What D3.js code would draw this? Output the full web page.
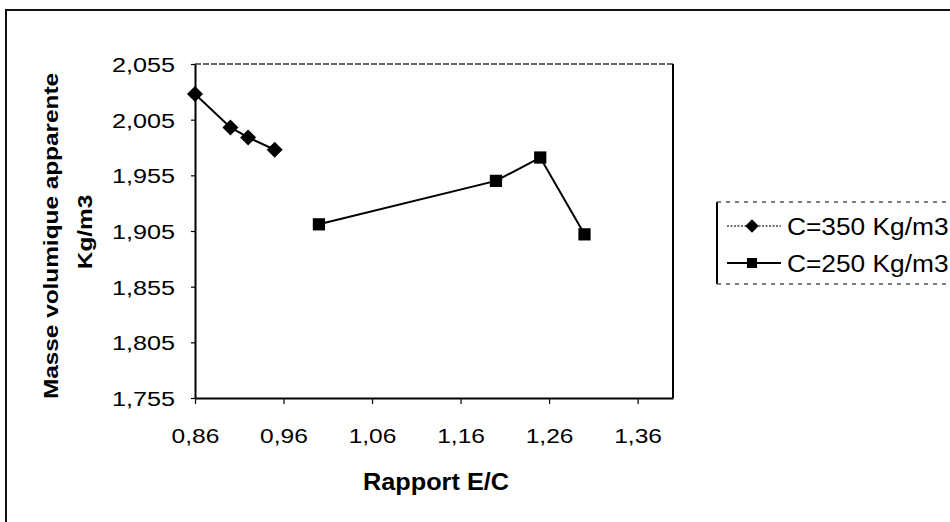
<!DOCTYPE html>
<html><head><meta charset="utf-8">
<script src="https://cdn.jsdelivr.net/npm/d3@7"></script>
<style>body{margin:0;background:#fff;} svg{display:block;}</style>
</head><body><svg id="chart" width="950" height="522"></svg>
<script>
// E/C ratio (x) and apparent density (y) for each cement dosage
const ecRatio350 = [0.86, 0.90, 0.92, 0.95];
const density350 = [2.028, 1.998, 1.989, 1.978];
const ecRatio250 = [1.00, 1.20, 1.25, 1.30];
const density250 = [1.911, 1.950, 1.971, 1.902];
const seriesNames = ["C=350 Kg/m3", "C=250 Kg/m3"];
const xTickValues = [0.86, 0.96, 1.06, 1.16, 1.26, 1.36];
const yTickValues = [1.755, 1.805, 1.855, 1.905, 1.955, 2.005, 2.055];
const xTitle = "Rapport E/C";
const yTitleLines = ["Masse volumique apparente", "Kg/m3"];

const W = 950, H = 522;
const plot = {left: 195, right: 673, top: 64, bottom: 398};
const FONT = "'Liberation Sans', Arial, sans-serif";
const svg = d3.select("#chart");

const locale = d3.formatLocale({decimal: ",", thousands: " ", grouping: [3], currency: ["", ""]});
const fmtX = locale.format(".2f"), fmtY = locale.format(".3f");

const x = d3.scaleLinear().domain([0.86, 1.40]).range([plot.left, plot.right]);
const y = d3.scaleLinear().domain([1.755, 2.055]).range([plot.bottom, plot.top]);

// outer chart border (top and left edges)
svg.append("path")
  .attr("d", `M6,${H} V10 H${W}`)
  .attr("fill", "none").attr("stroke", "#111").attr("stroke-width", 2);

// plot frame: dotted top edge, solid right edge
svg.append("line")
  .attr("x1", plot.left).attr("x2", plot.right).attr("y1", plot.top).attr("y2", plot.top)
  .attr("stroke", "#333").attr("stroke-width", 1.5).attr("stroke-dasharray", "6,2");
svg.append("line")
  .attr("x1", plot.right).attr("x2", plot.right).attr("y1", plot.top).attr("y2", plot.bottom)
  .attr("stroke", "#000").attr("stroke-width", 2);

// y axis
const gy = svg.append("g")
  .attr("transform", `translate(${plot.left},0)`)
  .call(d3.axisLeft(y).tickValues(yTickValues).tickFormat(fmtY).tickSize(4).tickSizeOuter(0));
gy.select(".domain").attr("stroke", "#000").attr("stroke-width", 2);
gy.selectAll(".tick line").attr("stroke", "#000").attr("stroke-width", 1.2);
const syTick = 1.2;
gy.selectAll(".tick text")
  .attr("font-family", FONT).attr("font-size", 21).attr("fill", "#000")
  .attr("x", -20 / syTick).attr("dy", "0.35em")
  .attr("transform", `scale(${syTick},1)`);

// x axis
const gx = svg.append("g")
  .attr("transform", `translate(0,${plot.bottom})`)
  .call(d3.axisBottom(x).tickValues(xTickValues).tickFormat(fmtX).tickSize(6).tickSizeOuter(0));
gx.select(".domain").attr("stroke", "#000").attr("stroke-width", 2);
gx.selectAll(".tick line").attr("stroke", "#000").attr("stroke-width", 1.2);
gx.selectAll(".tick text")
  .attr("font-family", FONT).attr("font-size", 21).attr("fill", "#000")
  .attr("y", 45).attr("dy", 0)
  .attr("transform", "scale(1.17,1)");

// axis titles
svg.append("text")
  .attr("transform", `translate(${(plot.left + plot.right) / 2 + 2},490) scale(1.1,1)`)
  .attr("text-anchor", "middle")
  .attr("font-family", FONT).attr("font-weight", "bold").attr("font-size", 23)
  .text(xTitle);

const yTitlePos = [[58, 236], [92, 232]];
yTitleLines.forEach((t, i) => {
  svg.append("text")
    .attr("transform", `translate(${yTitlePos[i][0]},${yTitlePos[i][1]}) rotate(-90) scale(1.16,1)`)
    .attr("text-anchor", "middle")
    .attr("font-family", FONT).attr("font-weight", "bold").attr("font-size", 21)
    .text(t);
});

// series
const series = [
  {name: seriesNames[0], xs: ecRatio350, ys: density350, symbol: d3.symbolSquare, size: 128, rot: 45},
  {name: seriesNames[1], xs: ecRatio250, ys: density250, symbol: d3.symbolSquare, size: 150, rot: 0}
];
const line = d3.line().x(d => x(d[0])).y(d => y(d[1]));

series.forEach(s => {
  const pts = s.xs.map((v, i) => [v, s.ys[i]]);
  svg.append("path").datum(pts)
    .attr("d", line).attr("fill", "none").attr("stroke", "#000").attr("stroke-width", 2);
  svg.selectAll(null).data(pts).enter().append("path")
    .attr("d", d3.symbol(s.symbol, s.size))
    .attr("transform", d => `translate(${x(d[0])},${y(d[1])}) rotate(${s.rot})`)
    .attr("fill", "#000");
});

// legend
const lg = {left: 717, top: 202, bottom: 284};
svg.append("line").attr("x1", lg.left).attr("x2", lg.left).attr("y1", lg.top).attr("y2", lg.bottom)
  .attr("stroke", "#000").attr("stroke-width", 2);
[lg.top, lg.bottom].forEach(yy => {
  svg.append("line").attr("x1", lg.left).attr("x2", W).attr("y1", yy).attr("y2", yy)
    .attr("stroke", "#555").attr("stroke-width", 1.3).attr("stroke-dasharray", "4,5");
});
const rowY = [226, 263];
const legendSizes = [90, 100];
series.forEach((s, i) => {
  const ly = rowY[i];
  svg.append("line").attr("x1", 727).attr("x2", 781).attr("y1", ly).attr("y2", ly)
    .attr("stroke", i === 0 ? "#444" : "#000")
    .attr("stroke-width", i === 0 ? 1.4 : 2)
    .attr("stroke-dasharray", i === 0 ? "2,1.5" : null);
  svg.append("path")
    .attr("d", d3.symbol(s.symbol, legendSizes[i]))
    .attr("transform", `translate(752,${ly}) rotate(${s.rot})`)
    .attr("fill", "#000");
  svg.append("text")
    .attr("transform", `translate(787,${ly + 8.5}) scale(1.12,1)`)
    .attr("font-family", FONT).attr("font-size", 23.5).attr("fill", "#000")
    .text(s.name);
});
</script>
</body></html>
